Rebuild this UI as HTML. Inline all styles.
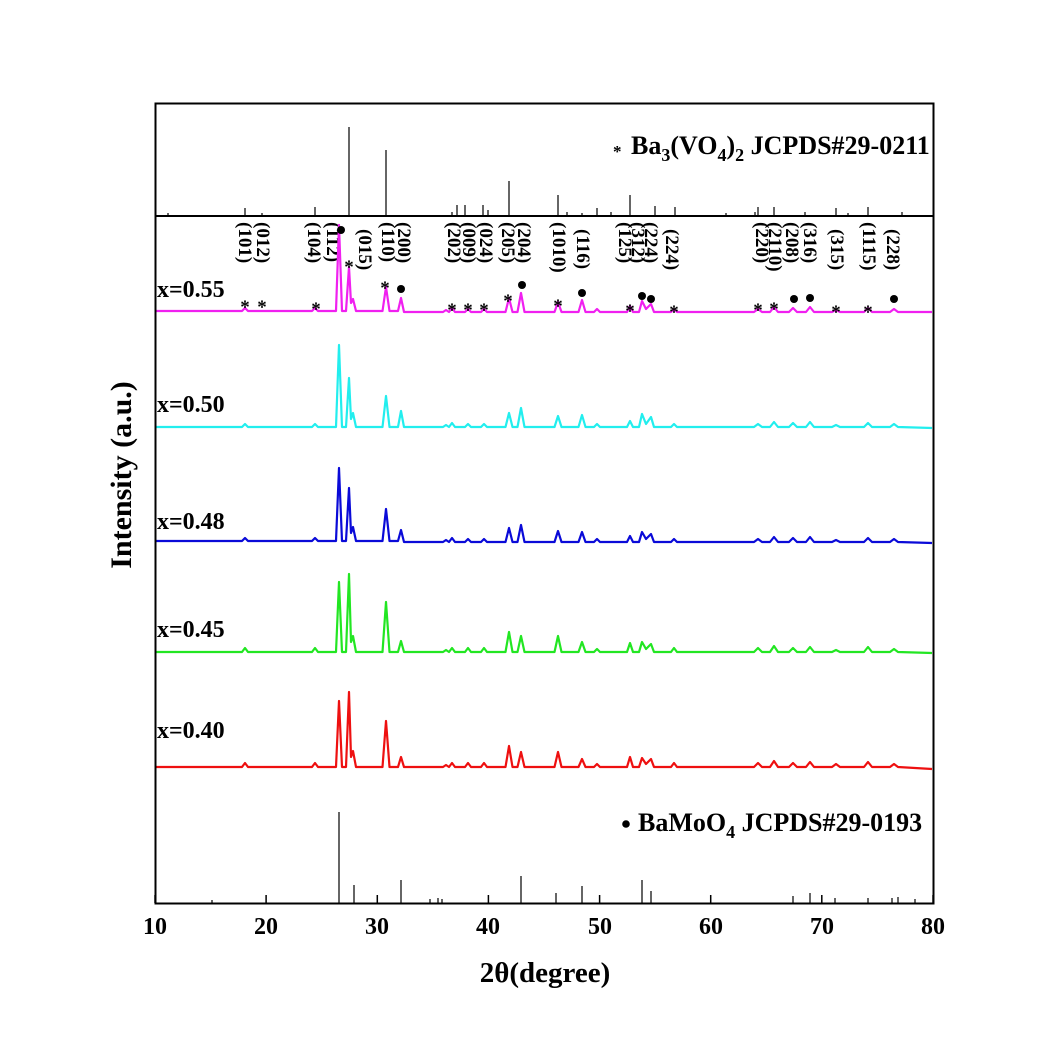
<!DOCTYPE html>
<html><head><meta charset="utf-8"><style>
html,body{margin:0;padding:0;background:#fff}
svg{display:block}
text{font-family:"Liberation Serif",serif;font-weight:bold;fill:#000}
</style></head><body>
<svg width="1038" height="1038" viewBox="0 0 1038 1038" xmlns="http://www.w3.org/2000/svg">
<rect x="0" y="0" width="1038" height="1038" fill="#fff"/>
<g stroke="#000" stroke-width="1.2">
<line x1="168" y1="216" x2="168" y2="213"/><line x1="245" y1="216" x2="245" y2="208"/><line x1="262" y1="216" x2="262" y2="213"/><line x1="315" y1="216" x2="315" y2="207"/><line x1="349" y1="216" x2="349" y2="127"/><line x1="386" y1="216" x2="386" y2="150"/><line x1="452" y1="216" x2="452" y2="212"/><line x1="457" y1="216" x2="457" y2="205"/><line x1="465" y1="216" x2="465" y2="205"/><line x1="483" y1="216" x2="483" y2="205"/><line x1="488" y1="216" x2="488" y2="210"/><line x1="509" y1="216" x2="509" y2="181"/><line x1="558" y1="216" x2="558" y2="195"/><line x1="567" y1="216" x2="567" y2="212"/><line x1="582" y1="216" x2="582" y2="213"/><line x1="597" y1="216" x2="597" y2="208"/><line x1="611" y1="216" x2="611" y2="212"/><line x1="630" y1="216" x2="630" y2="195"/><line x1="655" y1="216" x2="655" y2="206"/><line x1="675" y1="216" x2="675" y2="207"/><line x1="726" y1="216" x2="726" y2="213"/><line x1="755" y1="216" x2="755" y2="212"/><line x1="758" y1="216" x2="758" y2="207"/><line x1="774" y1="216" x2="774" y2="207"/><line x1="805" y1="216" x2="805" y2="212"/><line x1="836" y1="216" x2="836" y2="208"/><line x1="848" y1="216" x2="848" y2="213"/><line x1="868" y1="216" x2="868" y2="207"/><line x1="902" y1="216" x2="902" y2="212"/>
<line x1="212" y1="903" x2="212" y2="900"/><line x1="339" y1="903" x2="339" y2="812"/><line x1="354" y1="903" x2="354" y2="885"/><line x1="401" y1="903" x2="401" y2="880"/><line x1="430" y1="903" x2="430" y2="899"/><line x1="438" y1="903" x2="438" y2="898"/><line x1="442" y1="903" x2="442" y2="899"/><line x1="521" y1="903" x2="521" y2="876"/><line x1="556" y1="903" x2="556" y2="893"/><line x1="582" y1="903" x2="582" y2="886"/><line x1="642" y1="903" x2="642" y2="880"/><line x1="651" y1="903" x2="651" y2="891"/><line x1="793" y1="903" x2="793" y2="896"/><line x1="810" y1="903" x2="810" y2="893"/><line x1="835" y1="903" x2="835" y2="898"/><line x1="868" y1="903" x2="868" y2="898"/><line x1="892" y1="903" x2="892" y2="898"/><line x1="898" y1="903" x2="898" y2="897"/><line x1="915" y1="903" x2="915" y2="899"/>
</g>
<g stroke="#000" stroke-width="1.5">
<line x1="155" y1="903" x2="155" y2="895"/><line x1="266.1" y1="903" x2="266.1" y2="895"/><line x1="377.3" y1="903" x2="377.3" y2="895"/><line x1="488.4" y1="903" x2="488.4" y2="895"/><line x1="599.6" y1="903" x2="599.6" y2="895"/><line x1="710.7" y1="903" x2="710.7" y2="895"/><line x1="821.8" y1="903" x2="821.8" y2="895"/><line x1="933" y1="903" x2="933" y2="895"/>
</g>
<g font-size="24" text-anchor="middle">
<text x="155" y="934">10</text><text x="266" y="934">20</text><text x="377" y="934">30</text><text x="488" y="934">40</text><text x="600" y="934">50</text><text x="711" y="934">60</text><text x="822" y="934">70</text><text x="933" y="934">80</text>
</g>
<g font-size="19">
<text transform="translate(239,222) rotate(90)">(101)</text>
<text transform="translate(257,222) rotate(90)">(012)</text>
<text transform="translate(308,222) rotate(90)">(104)</text>
<text transform="translate(327,222) rotate(90)">(112)</text>
<text transform="translate(359,229) rotate(90)">(015)</text>
<text transform="translate(382,222) rotate(90)">(110)</text>
<text transform="translate(398,222) rotate(90)">(200)</text>
<text transform="translate(448,222) rotate(90)">(202)</text>
<text transform="translate(463,222) rotate(90)">(009)</text>
<text transform="translate(480,222) rotate(90)">(024)</text>
<text transform="translate(502,222) rotate(90)">(205)</text>
<text transform="translate(518,222) rotate(90)">(204)</text>
<text transform="translate(553,222) rotate(90)">(1010)</text>
<text transform="translate(577,229) rotate(90)">(116)</text>
<text transform="translate(619,222) rotate(90)">(125)</text>
<text transform="translate(632,222) rotate(90)">(312)</text>
<text transform="translate(645,222) rotate(90)">(224)</text>
<text transform="translate(666,229) rotate(90)">(224)</text>
<text transform="translate(756,222) rotate(90)">(220)</text>
<text transform="translate(769,222) rotate(90)">(2110)</text>
<text transform="translate(786,222) rotate(90)">(208)</text>
<text transform="translate(804,222) rotate(90)">(316)</text>
<text transform="translate(831,229) rotate(90)">(315)</text>
<text transform="translate(863,222) rotate(90)">(1115)</text>
<text transform="translate(887,229) rotate(90)">(228)</text>
</g>
<g fill="none" stroke-width="2.2" stroke-linejoin="round">
<path transform="translate(0,311)" stroke="#f020f0" d="M156,0 L242,0 L245,-3 L248,0 L312,0 L315,-3 L318,0 L336,0 L339,-86 L342,0 L346,0 L349,-44 L351,-8 L353,-12 L356,0 L382.5,0 L386,-24 L389.5,0 L398,0 L401,-13 L404,1 L443,1 L446,-1 L449,1 L452,-3 L455,1 L465,1 L468,-2 L471,1 L481,1 L484,-2 L487,1 L505.5,1 L509,-13 L512.5,1 L517.5,1 L521,-18 L524.5,1 L554.5,1 L558,-9 L561.5,1 L578.5,1 L582,-11 L585.5,1 L594,1 L597,-2 L600,1 L627,1 L630,-5 L633,1 L639,1 L642,-10 L646,-2 L651,-7 L654,1 L671,1 L674,-2 L677,1 L754,1 L758,-2 L762,1 L770,1 L774,-4 L778,1 L789,1 L793,-3 L797,1 L806,1 L810,-4 L814,1 L832,1 L836,-1 L840,1 L864,1 L868,-3 L872,1 L890,1 L894,-2 L898,1 L932,1"/>
<path transform="translate(0,427)" stroke="#22eeee" d="M156,0 L242,0 L245,-3 L248,0 L312,0 L315,-3 L318,0 L336,0 L339,-82 L342,0 L346,0 L349,-49 L351,-8 L353,-14 L356,0 L382.5,0 L386,-31 L389.5,0 L398,0 L401,-16 L404,0 L443,0 L446,-2 L449,0 L452,-4 L455,0 L465,0 L468,-3 L471,0 L481,0 L484,-3 L487,0 L505.5,0 L509,-14 L512.5,0 L517.5,0 L521,-19 L524.5,0 L554.5,0 L558,-11 L561.5,0 L578.5,0 L582,-12 L585.5,0 L594,0 L597,-3 L600,0 L627,0 L630,-6 L633,0 L639,0 L642,-13 L646,-3 L651,-10 L654,0 L671,0 L674,-3 L677,0 L754,0 L758,-3 L762,0 L770,0 L774,-5 L778,0 L789,0 L793,-4 L797,0 L806,0 L810,-5 L814,0 L832,0 L836,-2 L840,0 L864,0 L868,-4 L872,0 L890,0 L894,-3 L898,0 L932,1"/>
<path transform="translate(0,541)" stroke="#0a0ad8" d="M156,0 L242,0 L245,-3 L248,0 L312,0 L315,-3 L318,0 L336,0 L339,-73 L342,0 L346,0 L349,-53 L351,-8 L353,-14 L356,0 L382.5,0 L386,-32 L389.5,0 L398,0 L401,-11 L404,1 L443,1 L446,-1 L449,1 L452,-3 L455,1 L465,1 L468,-2 L471,1 L481,1 L484,-2 L487,1 L505.5,1 L509,-13 L512.5,1 L517.5,1 L521,-16 L524.5,1 L554.5,1 L558,-10 L561.5,1 L578.5,1 L582,-9 L585.5,1 L594,1 L597,-2 L600,1 L627,1 L630,-5 L633,1 L639,1 L642,-9 L646,-2 L651,-7 L654,1 L671,1 L674,-2 L677,1 L754,1 L758,-2 L762,1 L770,1 L774,-4 L778,1 L789,1 L793,-3 L797,1 L806,1 L810,-4 L814,1 L832,1 L836,-1 L840,1 L864,1 L868,-3 L872,1 L890,1 L894,-2 L898,1 L932,2"/>
<path transform="translate(0,652)" stroke="#22e622" d="M156,0 L242,0 L245,-4 L248,0 L312,0 L315,-4 L318,0 L336,0 L339,-70 L342,0 L346,0 L349,-78 L351,-10 L353,-16 L356,0 L382.5,0 L386,-50 L389.5,0 L398,0 L401,-11 L404,0 L443,0 L446,-2 L449,0 L452,-4 L455,0 L465,0 L468,-4 L471,0 L481,0 L484,-4 L487,0 L505.5,0 L509,-20 L512.5,0 L517.5,0 L521,-16 L524.5,0 L554.5,0 L558,-16 L561.5,0 L578.5,0 L582,-10 L585.5,0 L594,0 L597,-3 L600,0 L627,0 L630,-9 L633,0 L639,0 L642,-10 L646,-3 L651,-8 L654,0 L671,0 L674,-4 L677,0 L754,0 L758,-4 L762,0 L770,0 L774,-6 L778,0 L789,0 L793,-4 L797,0 L806,0 L810,-5 L814,0 L832,0 L836,-2 L840,0 L864,0 L868,-5 L872,0 L890,0 L894,-3 L898,0 L932,1"/>
<path transform="translate(0,767)" stroke="#ee1010" d="M156,0 L242,0 L245,-4 L248,0 L312,0 L315,-4 L318,0 L336,0 L339,-66 L342,0 L346,0 L349,-75 L351,-10 L353,-16 L356,0 L382.5,0 L386,-46 L389.5,0 L398,0 L401,-10 L404,0 L443,0 L446,-2 L449,0 L452,-4 L455,0 L465,0 L468,-4 L471,0 L481,0 L484,-4 L487,0 L505.5,0 L509,-21 L512.5,0 L517.5,0 L521,-15 L524.5,0 L554.5,0 L558,-15 L561.5,0 L578.5,0 L582,-8 L585.5,0 L594,0 L597,-3 L600,0 L627,0 L630,-10 L633,0 L639,0 L642,-9 L646,-3 L651,-8 L654,0 L671,0 L674,-4 L677,0 L754,0 L758,-4 L762,0 L770,0 L774,-6 L778,0 L789,0 L793,-4 L797,0 L806,0 L810,-5 L814,0 L832,0 L836,-3 L840,0 L864,0 L868,-5 L872,0 L890,0 L894,-3 L898,0 L932,2"/>
</g>
<g font-size="19" text-anchor="middle">
<text x="245" y="313">*</text><text x="262" y="313">*</text><text x="316" y="315">*</text><text x="349" y="273">*</text><text x="385" y="294">*</text><text x="452" y="316">*</text><text x="468" y="316">*</text><text x="484" y="316">*</text><text x="508" y="307">*</text><text x="558" y="312">*</text><text x="630" y="317">*</text><text x="674" y="318">*</text><text x="758" y="316">*</text><text x="774" y="315">*</text><text x="836" y="318">*</text><text x="868" y="318">*</text>
</g>
<g fill="#000">
<circle cx="341" cy="230" r="4"/><circle cx="401" cy="289" r="4"/><circle cx="522" cy="285" r="4"/><circle cx="582" cy="293" r="4"/><circle cx="642" cy="296" r="4"/><circle cx="651" cy="299" r="4"/><circle cx="794" cy="299" r="4"/><circle cx="810" cy="298" r="4"/><circle cx="894" cy="299" r="4"/>
</g>
<rect x="155.5" y="103.5" width="778" height="800" fill="none" stroke="#000" stroke-width="2"/>
<line x1="155" y1="216" x2="933" y2="216" stroke="#000" stroke-width="2"/>
<text x="631" y="154" font-size="26">Ba<tspan font-size="18" dy="7">3</tspan><tspan dy="-7">(VO</tspan><tspan font-size="18" dy="7">4</tspan><tspan dy="-7">)</tspan><tspan font-size="18" dy="7">2</tspan><tspan dy="-7"> JCPDS#29-0211</tspan></text>
<text x="613" y="157" font-size="17">*</text>
<circle cx="626" cy="824" r="3.8" fill="#000"/>
<text x="638" y="831" font-size="26">BaMoO<tspan font-size="18" dy="7">4</tspan><tspan dy="-7"> JCPDS#29-0193</tspan></text>
<text x="157" y="297" font-size="24">x=0.55</text>
<text x="157" y="412" font-size="24">x=0.50</text>
<text x="157" y="529" font-size="24">x=0.48</text>
<text x="157" y="637" font-size="24">x=0.45</text>
<text x="157" y="738" font-size="24">x=0.40</text>
<text x="545" y="982" font-size="29" text-anchor="middle">2θ(degree)</text>
<text transform="translate(131,475) rotate(-90)" font-size="30" text-anchor="middle">Intensity (a.u.)</text>
</svg>
</body></html>
